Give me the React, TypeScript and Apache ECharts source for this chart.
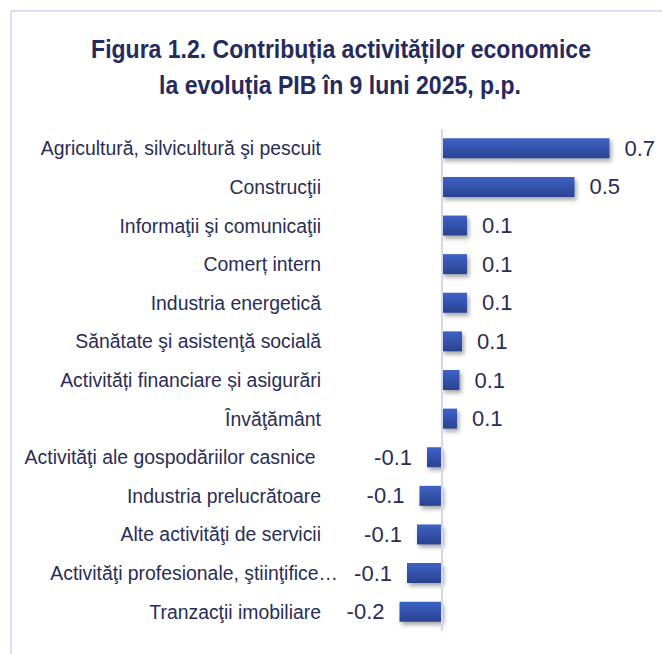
import React, { useEffect, useRef } from "react";
import * as echarts from "echarts";

const titleLines = [
  "Figura 1.2. Contribuția activităților economice",
  "la evoluția PIB în 9 luni 2025, p.p.",
];

const categories = [
  "Agricultură, silvicultură şi pescuit",
  "Construcţii",
  "Informaţii şi comunicaţii",
  "Comerț intern",
  "Industria energetică",
  "Sănătate şi asistenţă socială",
  "Activități financiare și asigurări",
  "Învăţământ",
  "Activităţi ale gospodăriilor casnice ",
  "Industria prelucrătoare",
  "Alte activităţi de servicii",
  "Activităţi profesionale, ştiinţifice…",
  "Tranzacţii imobiliare",
];

const values = [0.67, 0.53, 0.1, 0.1, 0.1, 0.08, 0.07, 0.06, -0.06, -0.09, -0.1, -0.14, -0.17];

const TEXT = "#2a2d55";

export default function App() {
  const ref = useRef<HTMLDivElement>(null);
  useEffect(() => {
    if (!ref.current) return;
    const chart = echarts.init(ref.current, undefined, { renderer: "svg" });
    const barColor = new echarts.graphic.LinearGradient(0, 0, 0, 1, [
      { offset: 0, color: "#3e62c6" },
      { offset: 1, color: "#2a4390" },
    ]);
    const titleFont = "bold 26px 'Liberation Sans', Arial, sans-serif";
    chart.setOption({
      animation: false,
      backgroundColor: "#ffffff",
      graphic: [
        {
          type: "line",
          shape: { x1: 11, y1: 11, x2: 662, y2: 11 },
          style: { stroke: "#dcdef2", lineWidth: 2 },
        },
        {
          type: "line",
          shape: { x1: 11, y1: 10, x2: 11, y2: 654 },
          style: { stroke: "#dcdef2", lineWidth: 2 },
        },
        {
          type: "text",
          x: 341,
          y: 49,
          scaleX: 0.885,
          style: {
            text: titleLines[0],
            font: titleFont,
            fill: "#262a5c",
            textAlign: "center",
            textVerticalAlign: "middle",
          },
        },
        {
          type: "text",
          x: 340,
          y: 85,
          scaleX: 0.885,
          style: {
            text: titleLines[1],
            font: titleFont,
            fill: "#262a5c",
            textAlign: "center",
            textVerticalAlign: "middle",
          },
        },
      ],
      grid: { left: 392, right: 20, top: 129, bottom: 23, containLabel: false },
      xAxis: {
        type: "value",
        min: -0.2,
        max: 0.8,
        show: false,
      },
      yAxis: {
        type: "category",
        inverse: true,
        data: categories.map((c, i) =>
          i === 11 ? { value: c, textStyle: { padding: [0, -17, 0, 0] } } : c
        ),
        axisLine: { show: false },
        axisTick: { show: false },
        axisLabel: {
          margin: 71,
          fontFamily: "'Liberation Sans', Arial, sans-serif",
          fontSize: 19.4,
          color: TEXT,
        },
      },
      series: [
        {
          type: "bar",
          data: values.map((v) => ({
            value: v,
            label: { position: v >= 0 ? "right" : "left" },
          })),
          barWidth: 20,
          itemStyle: {
            color: barColor,
            shadowColor: "rgba(0,0,0,0.35)",
            shadowBlur: 4,
            shadowOffsetX: 2,
            shadowOffsetY: 3,
          },
          label: {
            show: true,
            formatter: (p: any) => Number(p.value).toFixed(1),
            fontFamily: "'Liberation Sans', Arial, sans-serif",
            fontSize: 22,
            color: TEXT,
            distance: 15,
          },
          markLine: {
            silent: true,
            symbol: "none",
            label: { show: false },
            lineStyle: { color: "#d4d6f0", width: 2, type: "solid" },
            data: [{ xAxis: 0 }],
          },
        },
      ],
    });
    return () => chart.dispose();
  }, []);
  return (
    <div
      ref={ref}
      style={{ position: "fixed", left: 0, top: 0, width: 662, height: 654 }}
    />
  );
}
